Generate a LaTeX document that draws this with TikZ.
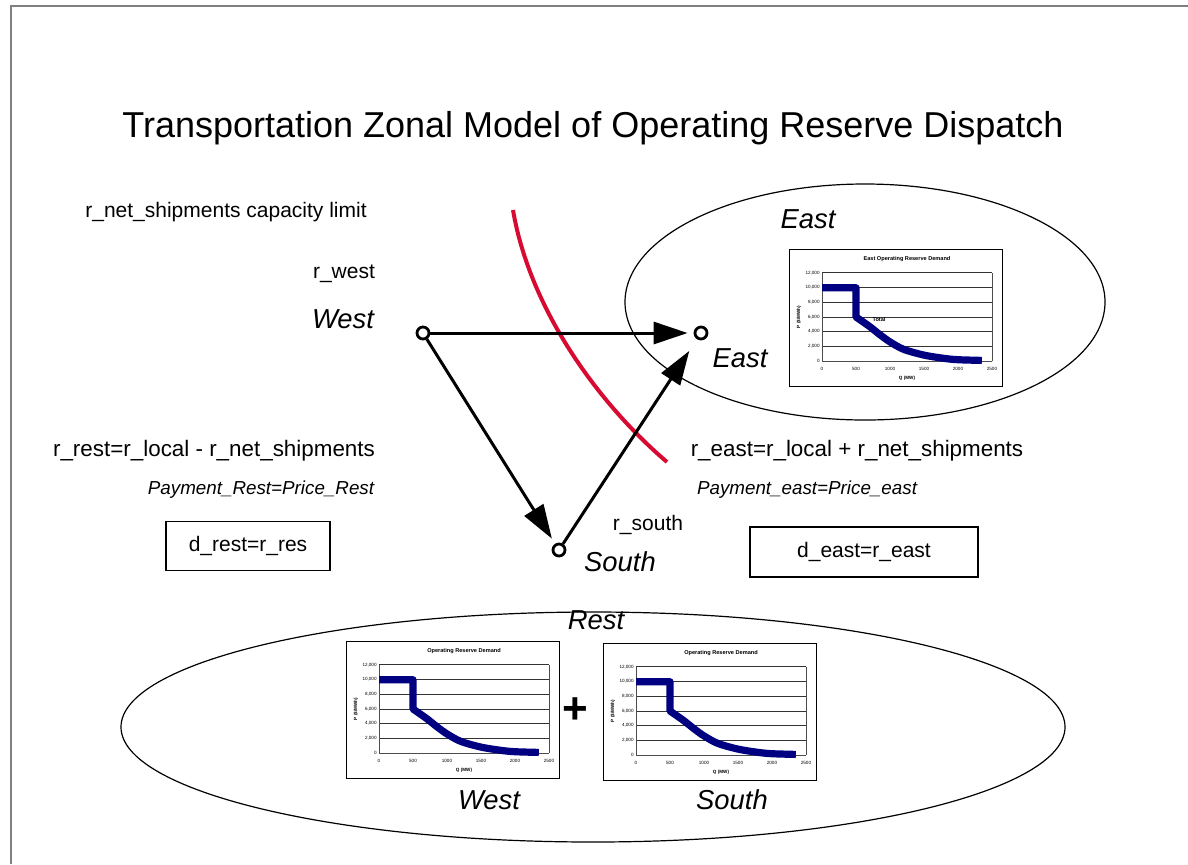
\documentclass[tikz,border=0pt]{standalone}
\usepackage{fontspec}
\setmainfont{Liberation Sans}
\usetikzlibrary{arrows.meta}

\definecolor{capred}{RGB}{215,10,50}
\definecolor{curveblue}{RGB}{0,0,128}

\tikzset{
  framegray/.style={draw=gray,line width=1pt},
  titletext/.style={font=\fontsize{18}{21}\selectfont},
  lbl/.style={font=\fontsize{10.5}{12}\selectfont,inner sep=0pt},
  eqlbl/.style={font=\fontsize{11.2}{13}\selectfont,inner sep=0pt},
  paylbl/.style={font=\fontsize{9.4}{11}\selectfont\itshape,inner sep=0pt},
  zonelbl/.style={font=\fontsize{13.7}{16}\selectfont\itshape,inner sep=0pt},
  zone/.style={draw,line width=0.6pt},
  hub/.style={circle,draw,fill=white,line width=1.4pt,minimum size=6pt,inner sep=0pt},
  flow/.style={line width=1.5pt,-{Triangle[length=17pt,width=11pt]},shorten >=3pt},
  caplimit/.style={draw=capred,line width=2pt},
  resbox/.style={draw,line width=0.75pt,font=\fontsize{10.5}{12}\selectfont},
  chartbox/.style={draw,line width=0.5pt},
  gridline/.style={draw=black!80,line width=0.5pt},
  axisline/.style={draw=black!70,line width=0.5pt},
  charttitle/.style={font=\fontsize{2.8}{3}\selectfont\bfseries,inner sep=0pt},
  ticklabel/.style={font=\fontsize{2.3}{3}\selectfont,inner sep=0pt},
  demand/.style={draw=curveblue,line width=3.6pt,line join=round}
}

\newcommand{\demandchart}[3]{%
  \begin{scope}[shift={(#1,#2)}]
    \draw[chartbox] (-33,25) rectangle (180,-112);
    \node[charttitle] at (85,-102) {#3};
    \foreach \k in {1,...,6} \draw[gridline] (0,-14.67*\k) -- (170,-14.67*\k);
    \draw[axisline] (170,0) -- (170,-88);
    \draw[axisline] (0,0) -- (0,-88);
    \draw[axisline] (0,0) -- (170,0);
    \foreach \k/\t in {0/0,1/{2,000},2/{4,000},3/{6,000},4/{8,000},5/{10,000},6/{12,000}}
      \node[ticklabel,anchor=east] at (-2,-14.67*\k) {\t};
    \foreach \q in {0,500,...,2500}
      \node[ticklabel] at (0.068*\q,8) {\q};
    \node[ticklabel,font=\fontsize{2.3}{3}\selectfont\bfseries] at (85,17) {Q (MW)};
    \node[ticklabel,font=\fontsize{2.3}{3}\selectfont\bfseries,rotate=90] at (-23,-44) {P (\$/MWh)};
    \draw[demand] (0,-73.3) -- (34,-73.3) -- plot[smooth] coordinates {(34,-44) (47.6,-34.5) (57.8,-26.4) (68,-19.1) (81.6,-11.7) (102,-5.9) (122.4,-2.6) (136,-1.3) (159.8,-0.6)};
  \end{scope}}

\begin{document}
\begin{tikzpicture}[x=0.5pt,y=-0.5pt]
\useasboundingbox (0,0) rectangle (1188,864);
\draw[framegray] (11,864) -- (11,6) -- (1188,6);
\node[titletext] (title) at (593,128) {Transportation Zonal Model of Operating Reserve Dispatch};

\draw[zone] (865,302) ellipse [x radius=240, y radius=118];
\draw[zone] (593,727) ellipse [x radius=472, y radius=115];

\node[lbl] (caplbl) at (226,212) {r\_net\_shipments capacity limit};
\node[zonelbl] (eastzone) at (808,219) {East};
\node[zonelbl] (restzone) at (596,620) {Rest};

\node[hub] (west) at (423,333) {};
\node[hub] (east) at (701,333) {};
\node[hub] (south) at (559,550) {};
\node[lbl] (rwest) at (344,274) {r\_west};
\node[zonelbl] (westlbl) at (343,319) {West};
\node[zonelbl] (eastlbl) at (740,358) {East};
\node[lbl] (rsouth) at (648,525) {r\_south};
\node[zonelbl] (southlbl) at (620,562) {South};

\draw[caplimit] (513,210) .. controls (530,310) and (599,404) .. (667,462);

\draw[flow] (west) -- (east);
\draw[flow] (west) -- (south);
\draw[flow,shorten >=7pt] (south) -- (east);

\node[eqlbl] (rrest) at (214,451) {r\_rest=r\_local - r\_net\_shipments};
\node[paylbl] (payrest) at (261,490) {Payment\_Rest=Price\_Rest};
\node[resbox,minimum width=82pt,minimum height=24.5pt] (drest) at (248,546) {d\_rest=r\_res};
\node[eqlbl] (reast) at (857,451) {r\_east=r\_local + r\_net\_shipments};
\node[paylbl] (payeast) at (807,490) {Payment\_east=Price\_east};
\node[resbox,minimum width=114pt,minimum height=25pt] (deast) at (864,552) {d\_east=r\_east};

\demandchart{822}{361}{East Operating Reserve Demand}
\node[charttitle] (total) at (879,319) {Total};
\demandchart{379}{753}{Operating Reserve Demand}
\demandchart{636}{755}{Operating Reserve Demand}

\node[font=\fontsize{22}{22}\selectfont\bfseries,inner sep=0pt] (plus) at (575,711) {+};
\node[zonelbl] (westchart) at (489,800) {West};
\node[zonelbl] (southchart) at (732,800) {South};
\end{tikzpicture}
\end{document}
